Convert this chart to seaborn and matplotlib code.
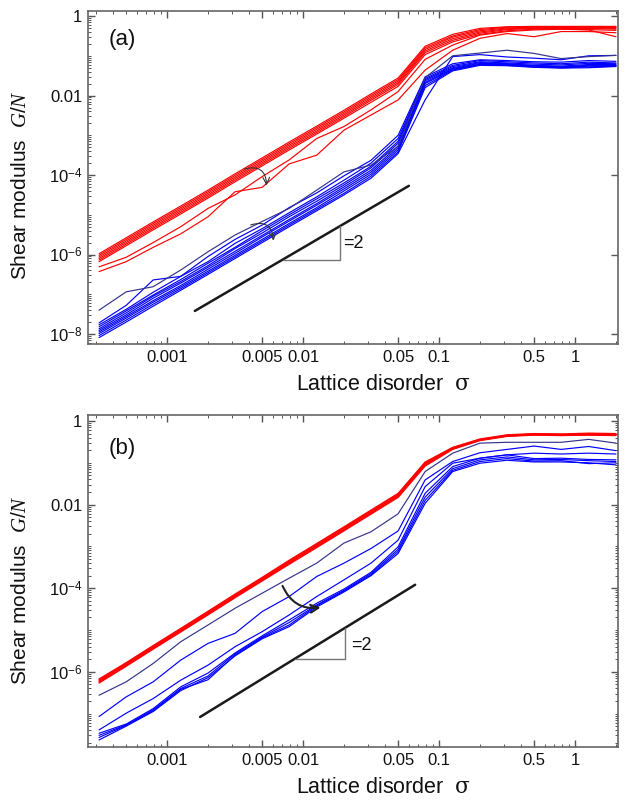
import numpy as np
import pandas as pd
import matplotlib
matplotlib.use("Agg")
import matplotlib.pyplot as plt
from matplotlib.ticker import FixedLocator, FixedFormatter, NullFormatter
import seaborn as sns

sns.set_theme(style="ticks")
plt.rcParams['font.family'] = ['Liberation Sans', 'DejaVu Sans']
plt.rcParams['mathtext.fontset'] = 'custom'
plt.rcParams['mathtext.rm'] = 'Liberation Sans'
plt.rcParams['mathtext.it'] = 'Liberation Serif:italic'
plt.rcParams['mathtext.sf'] = 'DejaVu Serif'

# lattice disorder values (x)
sigma = [3.16e-4, 5.0e-4, 7.9e-4, 1.26e-3, 2.0e-3, 3.16e-3, 5.0e-3, 7.9e-3,
         0.0126, 0.02, 0.0316, 0.05, 0.079, 0.126, 0.2, 0.316, 0.5, 0.79, 1.26, 2.0]

# panel (a): log10 of shear modulus G/N
a_red = [
    [-5.98, -5.58, -5.18, -4.78, -4.38, -3.97, -3.57, -3.17, -2.77, -2.37, -1.96, -1.56, -0.76, -0.46, -0.31, -0.27, -0.26, -0.26, -0.26, -0.26],
    [-6.02, -5.62, -5.22, -4.82, -4.42, -4.01, -3.61, -3.21, -2.81, -2.41, -2.00, -1.60, -0.80, -0.50, -0.34, -0.28, -0.27, -0.28, -0.27, -0.27],
    [-6.06, -5.66, -5.26, -4.86, -4.46, -4.05, -3.65, -3.25, -2.85, -2.45, -2.04, -1.64, -0.84, -0.53, -0.37, -0.30, -0.28, -0.29, -0.28, -0.29],
    [-6.10, -5.70, -5.30, -4.90, -4.50, -4.09, -3.69, -3.29, -2.89, -2.49, -2.08, -1.68, -0.88, -0.57, -0.40, -0.32, -0.30, -0.30, -0.30, -0.31],
    [-6.14, -5.74, -5.34, -4.94, -4.54, -4.13, -3.73, -3.33, -2.93, -2.53, -2.12, -1.72, -0.92, -0.61, -0.43, -0.34, -0.31, -0.31, -0.31, -0.33],
    [-6.18, -5.78, -5.38, -4.98, -4.58, -4.17, -3.77, -3.37, -2.97, -2.57, -2.17, -1.77, -0.97, -0.65, -0.46, -0.37, -0.33, -0.33, -0.34, -0.36],
    [-6.31, -6.07, -5.70, -5.30, -4.84, -4.50, -4.04, -3.62, -3.08, -2.78, -2.36, -1.90, -1.09, -0.73, -0.48, -0.39, -0.35, -0.33, -0.35, -0.52],
    [-6.43, -6.18, -5.82, -5.48, -5.05, -4.42, -4.31, -3.72, -3.50, -2.87, -2.49, -2.11, -1.36, -0.86, -0.56, -0.44, -0.52, -0.39, -0.39, -0.42],
]
a_navy = [
    [-7.40, -6.94, -6.81, -6.39, -5.93, -5.51, -5.17, -4.84, -4.38, -3.92, -3.75, -3.28, -1.55, -1.00, -0.93, -0.86, -0.94, -1.07, -1.02, -0.99],
]
a_blue = [
    [-7.72, -7.28, -6.64, -6.55, -6.05, -5.62, -5.26, -4.82, -4.45, -4.02, -3.63, -3.00, -1.53, -1.20, -1.10, -1.12, -1.15, -1.16, -1.12, -1.14],
    [-7.77, -7.38, -6.95, -6.55, -6.18, -5.72, -5.35, -4.95, -4.55, -4.13, -3.70, -3.08, -1.57, -1.24, -1.12, -1.15, -1.18, -1.20, -1.16, -1.18],
    [-7.82, -7.42, -7.02, -6.63, -6.22, -5.82, -5.40, -5.00, -4.60, -4.20, -3.78, -3.15, -1.60, -1.27, -1.15, -1.18, -1.21, -1.23, -1.19, -1.20],
    [-7.87, -7.47, -7.05, -6.68, -6.28, -5.85, -5.46, -5.05, -4.66, -4.25, -3.82, -3.20, -1.63, -1.30, -1.17, -1.20, -1.24, -1.26, -1.22, -1.22],
    [-7.91, -7.52, -7.10, -6.72, -6.32, -5.92, -5.52, -5.12, -4.72, -4.30, -3.88, -3.27, -1.67, -1.32, -1.19, -1.21, -1.25, -1.28, -1.24, -1.24],
    [-7.95, -7.56, -7.16, -6.78, -6.37, -5.97, -5.56, -5.16, -4.76, -4.35, -3.93, -3.32, -1.70, -1.34, -1.21, -1.22, -1.26, -1.29, -1.26, -1.25],
    [-7.99, -7.60, -7.20, -6.82, -6.42, -6.02, -5.62, -5.22, -4.82, -4.40, -3.98, -3.37, -1.75, -1.36, -1.22, -1.24, -1.28, -1.30, -1.28, -1.26],
    [-8.04, -7.65, -7.25, -6.86, -6.46, -6.06, -5.66, -5.26, -4.86, -4.46, -4.03, -3.42, -1.80, -1.38, -1.24, -1.25, -1.29, -1.31, -1.30, -1.27],
    [-8.09, -7.70, -7.30, -6.90, -6.50, -6.10, -5.70, -5.30, -4.90, -4.50, -4.08, -3.46, -2.11, -1.02, -0.97, -1.03, -1.06, -1.10, -1.00, -0.99],
]

# panel (b)
b_red = [
    [-6.17, -5.78, -5.37, -4.96, -4.55, -4.14, -3.74, -3.33, -2.93, -2.53, -2.13, -1.73, -0.98, -0.63, -0.43, -0.33, -0.30, -0.31, -0.29, -0.30],
    [-6.19, -5.80, -5.39, -4.98, -4.57, -4.16, -3.76, -3.35, -2.95, -2.55, -2.15, -1.75, -1.00, -0.64, -0.44, -0.34, -0.31, -0.32, -0.31, -0.31],
    [-6.21, -5.81, -5.41, -5.00, -4.59, -4.18, -3.78, -3.37, -2.97, -2.57, -2.17, -1.77, -1.02, -0.65, -0.45, -0.35, -0.32, -0.33, -0.31, -0.32],
    [-6.23, -5.83, -5.43, -5.02, -4.61, -4.20, -3.79, -3.39, -2.99, -2.59, -2.19, -1.79, -1.04, -0.66, -0.46, -0.36, -0.33, -0.33, -0.32, -0.33],
    [-6.25, -5.85, -5.44, -5.03, -4.62, -4.21, -3.81, -3.41, -3.01, -2.61, -2.21, -1.81, -1.06, -0.67, -0.46, -0.36, -0.33, -0.34, -0.33, -0.34],
    [-6.27, -5.87, -5.46, -5.05, -4.64, -4.23, -3.83, -3.43, -3.03, -2.63, -2.23, -1.83, -1.08, -0.68, -0.47, -0.37, -0.34, -0.35, -0.34, -0.35],
]
b_navy = [
    [-6.56, -6.24, -5.80, -5.28, -4.88, -4.48, -4.12, -3.76, -3.40, -2.92, -2.65, -2.22, -1.21, -0.77, -0.53, -0.51, -0.51, -0.51, -0.44, -0.53],
]
b_blue = [
    [-7.07, -6.60, -6.24, -5.72, -5.32, -5.08, -4.56, -4.20, -3.72, -3.40, -3.05, -2.63, -1.41, -0.97, -0.76, -0.68, -0.60, -0.68, -0.61, -0.71],
    [-7.39, -6.99, -6.64, -6.20, -5.84, -5.40, -5.04, -4.64, -4.20, -3.80, -3.40, -2.85, -1.57, -1.01, -0.89, -0.81, -0.77, -0.79, -0.77, -0.79],
    [-7.47, -7.25, -6.88, -6.36, -6.03, -5.55, -5.14, -4.76, -4.36, -4.02, -3.62, -3.01, -1.73, -1.09, -0.89, -0.81, -0.90, -0.89, -0.92, -0.93],
    [-7.52, -7.27, -6.91, -6.40, -6.10, -5.57, -5.17, -4.82, -4.40, -4.05, -3.65, -3.07, -1.82, -1.14, -0.93, -0.86, -0.93, -0.92, -0.95, -0.97],
    [-7.57, -7.28, -6.93, -6.42, -6.19, -5.60, -5.19, -4.88, -4.42, -4.07, -3.68, -3.12, -1.90, -1.18, -0.97, -0.90, -0.96, -0.95, -1.02, -1.00],
    [-7.63, -7.30, -6.95, -6.45, -6.14, -5.62, -5.21, -4.92, -4.45, -4.09, -3.70, -3.17, -1.97, -1.21, -1.01, -0.94, -0.98, -0.98, -1.00, -1.05],
]

x_ticks = [0.001, 0.005, 0.01, 0.05, 0.1, 0.5, 1]
x_ticklabels = ["0.001", "0.005", "0.01", "0.05", "0.1", "0.5", "1"]
a_yticks = [1, 1e-2, 1e-4, 1e-6, 1e-8]
a_yticklabels = ["1", "0.01", "$10^{-4}$", "$10^{-6}$", "$10^{-8}$"]
b_yticks = [1, 1e-2, 1e-4, 1e-6]
b_yticklabels = ["1", "0.01", "$10^{-4}$", "$10^{-6}$"]

RED = "#ff0000"
BLUE = "#0000ff"
NAVY = "#34348a"


def to_frame(curves, name):
    rows = []
    for i, c in enumerate(curves):
        for s, v in zip(sigma, c):
            rows.append((s, 10.0 ** v, f"{name}{i}"))
    return pd.DataFrame(rows, columns=["sigma", "G", "curve"])


def style_axes(ax, ylim, yticks, yticklabels, right_minor):
    ax.set_xscale("log")
    ax.set_yscale("log")
    ax.set_xlim(2.62e-4, 2.07)
    ax.set_ylim(*ylim)
    ax.xaxis.set_major_locator(FixedLocator(x_ticks))
    ax.xaxis.set_major_formatter(FixedFormatter(x_ticklabels))
    xminor = [n * 10.0 ** k for k in range(-4, 1) for n in range(1, 10)]
    xminor = [v for v in xminor if v not in x_ticks]
    ax.xaxis.set_minor_locator(FixedLocator(xminor))
    ax.xaxis.set_minor_formatter(NullFormatter())
    ax.yaxis.set_major_locator(FixedLocator(yticks))
    ax.yaxis.set_major_formatter(FixedFormatter(yticklabels))
    yminor = [n * 10.0 ** k for k in range(-9, 1) for n in range(1, 10)]
    yminor = [v for v in yminor if v not in yticks]
    ax.yaxis.set_minor_locator(FixedLocator(yminor))
    ax.yaxis.set_minor_formatter(NullFormatter())
    ax.tick_params(which="both", direction="in", top=True, right=True,
                   color="#555555", labelsize=12, labelcolor="#111111")
    ax.tick_params(which="major", length=5, width=1.0, pad=4)
    ax.tick_params(which="minor", length=2.5, width=0.7)
    if not right_minor:
        ax.tick_params(which="minor", right=False)
    for sp in ax.spines.values():
        sp.set_color("#666666")
        sp.set_linewidth(1.2)
    ax.grid(False)


def draw_curves(ax, groups):
    for curves, name, color in groups:
        df = to_frame(curves, name)
        sns.lineplot(data=df, x="sigma", y="G", units="curve", estimator=None,
                     sort=False, color=color, linewidth=0.85, ax=ax, legend=False)


def slope_guide(ax, x0, y0, x1, xt0, xt1, tx, ty):
    xs = np.array([x0, x1])
    ax.plot(xs, y0 * (xs / x0) ** 2, color="#1a1a1a", lw=1.8)
    yt0 = y0 * (xt0 / x0) ** 2
    yt1 = y0 * (xt1 / x0) ** 2
    ax.plot([xt0, xt1, xt1], [yt0, yt0, yt1], color="#777777", lw=1.0)
    ax.text(tx, ty, "=2", fontsize=13, ha="left", va="center", color="#111111")


fig = plt.figure(figsize=(6.26, 8.0), dpi=100)
ax_a = fig.add_axes([88 / 626, 1 - 344 / 800, 530 / 626, 333 / 800])
ax_b = fig.add_axes([88 / 626, 1 - 747 / 800, 530 / 626, 332 / 800])

# ---- panel (a)
style_axes(ax_a, (5.6e-9, 1.34), a_yticks, a_yticklabels, right_minor=False)
draw_curves(ax_a, [(a_blue, "ab", BLUE), (a_navy, "an", NAVY), (a_red, "ar", RED)])
slope_guide(ax_a, 1.6e-3, 10 ** -7.42, 0.06, 7.1e-3, 0.0187, 0.0196, 10 ** -5.72)
ax_a.annotate("", xy=(0.337, 0.468), xytext=(0.290, 0.523), xycoords="axes fraction",
              arrowprops=dict(arrowstyle="->", connectionstyle="arc3,rad=-0.7",
                              color="#333333", lw=0.8))
ax_a.annotate("", xy=(0.350, 0.302), xytext=(0.302, 0.355), xycoords="axes fraction",
              arrowprops=dict(arrowstyle="->", connectionstyle="arc3,rad=-0.7",
                              color="#333333", lw=0.8))
ax_a.text(0.064, 0.913, "(a)", transform=ax_a.transAxes, fontsize=16,
          ha="center", va="center", color="#111111")

# ---- panel (b)
style_axes(ax_b, (1.59e-8, 1.39), b_yticks, b_yticklabels, right_minor=True)
draw_curves(ax_b, [(b_blue, "bb", BLUE), (b_navy, "bn", NAVY), (b_red, "br", RED)])
slope_guide(ax_b, 1.75e-3, 10 ** -7.08, 0.0667, 8.7e-3, 0.0204, 0.0226, 10 ** -5.36)
ax_b.annotate("", xy=(0.444, 0.421), xytext=(0.365, 0.493), xycoords="axes fraction",
              arrowprops=dict(arrowstyle="->", connectionstyle="arc3,rad=0.4",
                              color="#222222", lw=1.5, mutation_scale=14))
ax_b.text(0.064, 0.898, "(b)", transform=ax_b.transAxes, fontsize=16,
          ha="center", va="center", color="#111111")

for ax, yl in [(ax_a, 0.477), (ax_b, 0.473)]:
    ax.set_xlabel(r"Lattice disorder  $\mathsf{\sigma}$", fontsize=15.5, color="#111111")
    ax.set_ylabel(r"Shear modulus  $G/N$", fontsize=15, color="#111111")
    ax.xaxis.set_label_coords(0.557, -0.123)
    ax.xaxis.label.set_va("center")
    ax.yaxis.set_label_coords(-0.128, yl)
    ax.yaxis.label.set_va("center")

fig.savefig("out.png", dpi=100)
